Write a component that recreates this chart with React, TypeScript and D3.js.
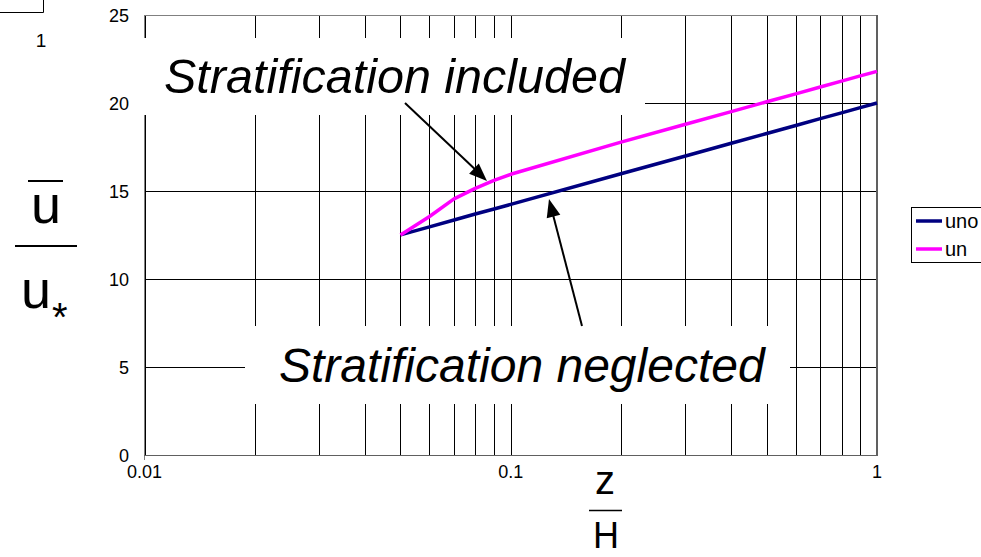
import React from "react";
import * as d3 from "d3";

const zVals = [0.05, 0.06, 0.07, 0.08, 0.09, 0.1, 0.2, 0.3, 0.4, 0.5, 0.6, 0.7, 0.8, 0.9, 1];
const unoVals = [12.51, 12.96, 13.35, 13.69, 13.98, 14.24, 15.98, 16.99, 17.71, 18.27, 18.72, 19.11, 19.44, 19.74, 20.0];
const unVals = [12.5, 13.55, 14.55, 15.15, 15.6, 15.95, 17.78, 18.79, 19.51, 20.07, 20.52, 20.91, 21.24, 21.54, 21.8];
const seriesNames = ["uno", "un"];
const seriesColors = ["#000080", "#FF00FF"];
const yTicks = [0, 5, 10, 15, 20, 25];
const xTicks = [0.01, 0.1, 1];
const xTickLabels = ["0.01", "0.1", "1"];

const FONT = "'Liberation Sans', Arial, sans-serif";

function arrowHead(x1: number, y1: number, x2: number, y2: number, len = 18, half = 7) {
  const dx = x2 - x1, dy = y2 - y1;
  const L = Math.hypot(dx, dy);
  const ux = dx / L, uy = dy / L;
  const bx = x2 - ux * len, by = y2 - uy * len;
  const px = -uy, py = ux;
  return `M${x2},${y2}L${bx + px * half},${by + py * half}L${bx - px * half},${by - py * half}Z`;
}

export default function App() {
  const W = 981, H = 557;
  const x = d3.scaleLog().domain([0.01, 1]).range([144.5, 877]);
  const y = d3.scaleLinear().domain([0, 25]).range([455, 15]);
  const minor = x.ticks();
  const line = d3.line<number>().x((_, i) => x(zVals[i])).y((v) => y(v));
  const series = [unoVals, unVals];

  const a1 = { x1: 405, y1: 103, x2: 487, y2: 181 };
  const a2 = { x1: 582, y1: 326, x2: 549, y2: 199 };

  return (
    <svg width={W} height={H} style={{ position: "absolute", left: 0, top: 0, background: "#fff" }} fontFamily={FONT}>
      <rect x={0} y={0} width={W} height={H} fill="#fff" />
      {/* stray fragment top-left */}
      <path d="M0,12.5H43.5V0" fill="none" stroke="#000" strokeWidth={1} />
      <text x={41} y={47} fontSize={19} textAnchor="middle">1</text>

      {/* vertical gridlines */}
      {minor.map((t, i) => (
        <line key={"v" + i} x1={Math.round(x(t)) + 0.5} x2={Math.round(x(t)) + 0.5} y1={15} y2={455} stroke="#000" strokeWidth={1} />
      ))}
      {/* horizontal gridlines */}
      {yTicks.map((t) => (
        <line key={"h" + t} x1={144} x2={877} y1={Math.round(y(t)) + 0.5} y2={Math.round(y(t)) + 0.5} stroke="#000" strokeWidth={1} />
      ))}
      {/* plot border */}
      <line x1={144.5} x2={144.5} y1={15} y2={460} stroke="#808080" strokeWidth={1} />
      <line x1={144} x2={877} y1={15.5} y2={15.5} stroke="#808080" strokeWidth={1} />
      <line x1={877} x2={877} y1={15} y2={456} stroke="#606060" strokeWidth={2} />
      <line x1={144} x2={877} y1={455.5} y2={455.5} stroke="#606060" strokeWidth={1} />

      {/* white boxes behind annotations */}
      <rect x={138} y={38} width={507} height={77} fill="#fff" />
      <rect x={245} y={326} width={545} height={78} fill="#fff" />

      {/* tick labels */}
      {yTicks.map((t) => (
        <text key={"yl" + t} x={129} y={y(t) + 7} fontSize={18} textAnchor="end">{t}</text>
      ))}
      {xTicks.map((t, i) => (
        <text key={"xl" + t} x={x(t)} y={478} fontSize={18} textAnchor="middle">{xTickLabels[i]}</text>
      ))}

      {/* series */}
      {series.map((s, i) => (
        <path key={"s" + i} d={line(s) || ""} fill="none" stroke={seriesColors[i]} strokeWidth={3.5} strokeLinejoin="round" />
      ))}

      {/* annotations */}
      <text x={164} y={93} fontSize={48.5} fontStyle="italic">Stratification included</text>
      <text x={279} y={382} fontSize={48} fontStyle="italic">Stratification neglected</text>
      <line x1={a1.x1} y1={a1.y1} x2={a1.x2 - 8} y2={a1.y2 - 8} stroke="#000" strokeWidth={2} />
      <path d={arrowHead(a1.x1, a1.y1, a1.x2, a1.y2)} fill="#000" />
      <line x1={a2.x1} y1={a2.y1} x2={a2.x2 + 2} y2={a2.y2 + 8} stroke="#000" strokeWidth={2} />
      <path d={arrowHead(a2.x1, a2.y1, a2.x2, a2.y2)} fill="#000" />

      {/* axis titles */}
      <line x1={28} x2={63} y1={181} y2={181} stroke="#000" strokeWidth={2} />
      <text x={46} y={223} fontSize={54} textAnchor="middle">u</text>
      <line x1={15} x2={77} y1={246} y2={246} stroke="#000" strokeWidth={2} />
      <text x={36} y={308} fontSize={54} textAnchor="middle">u</text>
      <text x={52} y={331} fontSize={40}>*</text>

      <text x={605} y={494} fontSize={40} textAnchor="middle">z</text>
      <line x1={589} x2={622} y1={510.5} y2={510.5} stroke="#000" strokeWidth={1.5} />
      <text x={606} y={548} fontSize={36} textAnchor="middle">H</text>

      {/* legend */}
      <rect x={911.5} y={207.5} width={80} height={55} fill="#fff" stroke="#000" strokeWidth={1} />
      {seriesNames.map((n, i) => (
        <g key={"lg" + n}>
          <line x1={916} x2={942} y1={221 + i * 28} y2={221 + i * 28} stroke={seriesColors[i]} strokeWidth={3.5} />
          <text x={945} y={221 + i * 28 + 7} fontSize={20}>{n}</text>
        </g>
      ))}
    </svg>
  );
}
